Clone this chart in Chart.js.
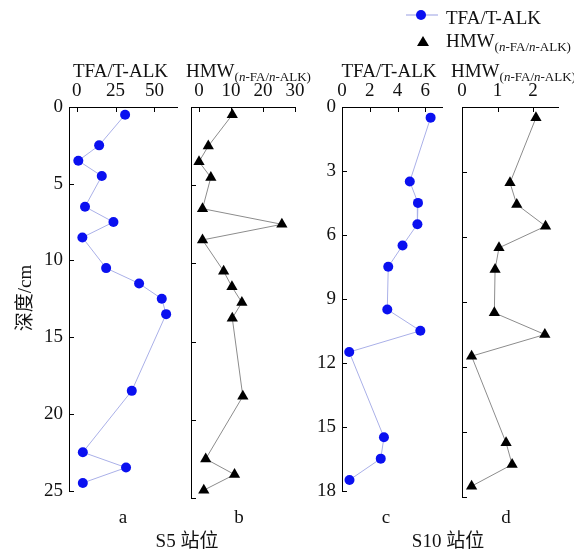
<!DOCTYPE html>
<html><head><meta charset="utf-8">
<script src="https://cdn.jsdelivr.net/npm/chart.js@4.4.0/dist/chart.umd.min.js"></script>
<style>
html,body{margin:0;padding:0;background:#fff;}
#wrap{position:relative;width:574px;height:550px;overflow:hidden;background:#fff;}
canvas{position:absolute;}
svg{position:absolute;left:0;top:0;}
</style></head><body>
<div id="wrap">
<canvas id="pa" width="190" height="430" style="left:0px;top:78px"></canvas>
<canvas id="pb" width="130" height="430" style="left:180px;top:78px"></canvas>
<canvas id="pc" width="165" height="430" style="left:290px;top:78px"></canvas>
<canvas id="pd" width="124" height="430" style="left:450px;top:78px"></canvas>
<svg width="574" height="550" font-family="'Liberation Serif','Noto Sans CJK SC',serif" fill="#111">
  <!-- legend -->
  <line x1="406" y1="15" x2="438" y2="15" stroke="#aab0e8" stroke-width="1.2"/>
  <circle cx="421" cy="15" r="5" fill="#0a10f0"/>
  <text x="446" y="24" font-size="19">TFA/T-ALK</text>
  <polygon points="423,36 429,46 417,46" fill="#000"/>
  <text x="446" y="47" font-size="19">HMW<tspan font-size="13" dy="4">(<tspan font-style="italic">n</tspan>-FA/<tspan font-style="italic">n</tspan>-ALK)</tspan></text>
  <!-- panel titles -->
  <text x="120.5" y="77" font-size="19" text-anchor="middle">TFA/T-ALK</text>
  <text x="186" y="77" font-size="19">HMW<tspan font-size="13" dy="4">(<tspan font-style="italic">n</tspan>-FA/<tspan font-style="italic">n</tspan>-ALK)</tspan></text>
  <text x="389" y="77" font-size="19" text-anchor="middle">TFA/T-ALK</text>
  <text x="451" y="77" font-size="19">HMW<tspan font-size="13" dy="4">(<tspan font-style="italic">n</tspan>-FA/<tspan font-style="italic">n</tspan>-ALK)</tspan></text>
  <!-- y title -->
  <text transform="translate(31,298) rotate(-90)" font-size="19" text-anchor="middle">深度/cm</text>
  <!-- panel letters -->
  <text x="123" y="523" font-size="19" text-anchor="middle">a</text>
  <text x="239" y="523" font-size="19" text-anchor="middle">b</text>
  <text x="386" y="523" font-size="19" text-anchor="middle">c</text>
  <text x="506" y="523" font-size="19" text-anchor="middle">d</text>
  <text x="187" y="547" font-size="19" text-anchor="middle">S5 站位</text>
  <text x="448" y="547" font-size="19" text-anchor="middle">S10 站位</text>
</svg>
</div>
<script>
// ---- data ----
const depthS5 = [0.5, 2.5, 3.5, 4.5, 6.5, 7.5, 8.5, 10.5, 11.5, 12.5, 13.5, 18.5, 22.5, 23.5, 24.5];
const tfaS5   = [31.1, 14.4, 1.0, 16.1, 5.3, 23.6, 3.6, 18.9, 40.1, 54.7, 57.5, 35.4, 3.9, 31.7, 3.9];
const hmwS5   = [10.4, 2.9, 0.0, 3.7, 1.1, 25.9, 1.1, 7.7, 10.3, 13.4, 10.4, 13.7, 2.1, 11.1, 1.5];

const depthS10 = [0.5, 3.5, 4.5, 5.5, 6.5, 7.5, 9.5, 10.5, 11.5, 15.5, 16.5, 17.5];
const tfaS10   = [6.38, 4.88, 5.47, 5.43, 4.36, 3.33, 3.26, 5.64, 0.52, 3.02, 2.79, 0.54];
const hmwS10   = [2.08, 1.35, 1.54, 2.35, 1.04, 0.93, 0.91, 2.33, 0.27, 1.24, 1.41, 0.27];

const depthTicksS5  = [0, 5, 10, 15, 20, 25];
const depthTicksS10 = [0, 3, 6, 9, 12, 15, 18];
const xTicksA = [0, 25, 50];
const xTicksB = [0, 10, 20, 30];
const xTicksC = [0, 2, 4, 6];
const xTicksD = [0, 1, 2];

Chart.defaults.font.family = "'Liberation Serif','Times New Roman',serif";
Chart.defaults.font.size = 19;
Chart.defaults.color = '#111';

const inwardTicks = {
  id: 'inwardTicks',
  beforeDatasetsDraw(chart) {
    const ctx = chart.ctx, ca = chart.chartArea;
    const xs = chart.scales.x, ys = chart.scales.y;
    ctx.save();
    ctx.strokeStyle = '#000';
    ctx.lineWidth = 1;
    ctx.beginPath();
    xs.ticks.forEach(t => {
      const px = Math.round(xs.getPixelForValue(t.value)) + 0.5;
      ctx.moveTo(px, ca.top); ctx.lineTo(px, ca.top + 5);
    });
    ys.ticks.forEach(t => {
      const py = Math.round(ys.getPixelForValue(t.value)) + 0.5;
      ctx.moveTo(ca.left, py); ctx.lineTo(ca.left + 5, py);
    });
    ctx.stroke();
    ctx.restore();
  }
};

function makePanel(id, depth, vals, opts) {
  const data = depth.map((d, i) => ({x: vals[i], y: d}));
  new Chart(document.getElementById(id), {
    type: 'scatter',
    data: {datasets: [{
      data,
      showLine: true,
      borderColor: opts.lineColor,
      borderWidth: 1,
      pointStyle: opts.pointStyle,
      pointRadius: opts.radius,
      pointHoverRadius: opts.radius,
      pointBackgroundColor: opts.pointColor,
      pointBorderColor: opts.pointColor,
      pointBorderWidth: 0,
      clip: false
    }]},
    options: {
      responsive: false,
      animation: false,
      events: [],
      layout: {padding: {left: 0, top: 0, right: opts.padRight, bottom: opts.padBottom}},
      plugins: {legend: {display: false}, tooltip: {enabled: false}},
      scales: {
        x: {
          type: 'linear', position: 'top',
          min: opts.xmin, max: opts.xmax,
          grid: {display: false, drawTicks: false},
          border: {display: true, color: '#000', width: 1},
          ticks: {padding: 5, maxRotation: 0, autoSkip: false},
          afterBuildTicks: s => { s.ticks = opts.xTicks.map(v => ({value: v})); },
          afterFit: s => { s.height = opts.xH; }
        },
        y: {
          type: 'linear', position: 'left', reverse: true,
          min: 0, max: opts.ymax,
          grid: {display: false, drawTicks: false},
          border: {display: true, color: '#000', width: 1},
          ticks: {display: opts.showY, padding: 6, autoSkip: false},
          afterBuildTicks: s => { s.ticks = opts.yTicks.map(v => ({value: v})); },
          afterFit: s => { s.width = opts.yW; }
        }
      }
    },
    plugins: [inwardTicks]
  });
}

const blue = {lineColor: '#aab0e8', pointColor: '#0a10f0', pointStyle: 'circle', radius: 5};
const black = {lineColor: '#8c8c8c', pointColor: '#000', pointStyle: 'triangle', radius: 6.5};

makePanel('pa', depthS5, tfaS5, Object.assign({}, blue, {
  xmin: -5, xmax: 64.5, xTicks: xTicksA, ymax: 25, yTicks: depthTicksS5,
  showY: true, yW: 69, xH: 29, padRight: 13, padBottom: 10}));
makePanel('pb', depthS5, hmwS5, Object.assign({}, black, {
  xmin: -2.5, xmax: 30, xTicks: xTicksB, ymax: 25, yTicks: depthTicksS5,
  showY: false, yW: 11, xH: 29, padRight: 15, padBottom: 10}));
makePanel('pc', depthS10, tfaS10, Object.assign({}, blue, {
  xmin: 0, xmax: 7.2, xTicks: xTicksC, ymax: 18, yTicks: depthTicksS10,
  showY: true, yW: 52, xH: 29, padRight: 13, padBottom: 11}));
makePanel('pd', depthS10, hmwS10, Object.assign({}, black, {
  xmin: 0, xmax: 2.7, xTicks: xTicksD, ymax: 18, yTicks: depthTicksS10,
  showY: false, yW: 12, xH: 29, padRight: 16, padBottom: 11}));
</script>
</body></html>
